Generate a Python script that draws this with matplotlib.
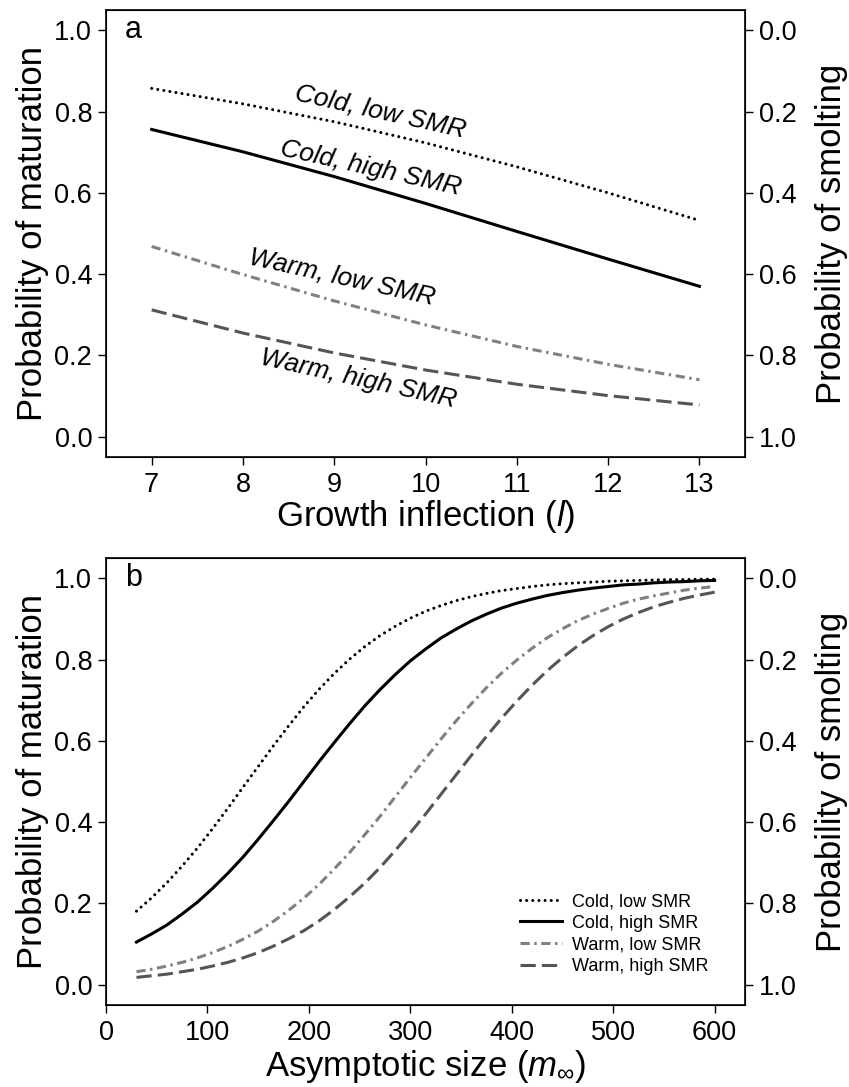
import numpy as np
import matplotlib.pyplot as plt

plt.rcParams['font.family'] = ['Liberation Sans', 'DejaVu Sans']
plt.rcParams['mathtext.fontset'] = 'custom'
plt.rcParams['mathtext.rm'] = 'Liberation Sans'
plt.rcParams['mathtext.it'] = 'Liberation Sans:italic'

# === Data ===
labels = ['Cold, low SMR', 'Cold, high SMR', 'Warm, low SMR', 'Warm, high SMR']

# panel a: growth inflection
inflection = [7, 8, 9, 10, 11, 12, 13]
a_cold_low = [0.857, 0.819, 0.775, 0.723, 0.664, 0.600, 0.532]
a_cold_high = [0.756, 0.701, 0.640, 0.574, 0.505, 0.437, 0.370]
a_warm_low = [0.468, 0.399, 0.334, 0.275, 0.222, 0.178, 0.140]
a_warm_high = [0.312, 0.255, 0.206, 0.164, 0.129, 0.101, 0.078]

# panel b: asymptotic size (30 to 600 in steps of 15)
asym_size = list(range(30, 601, 15))
b_cold_low = [0.181, 0.214, 0.251, 0.292, 0.336, 0.384, 0.434, 0.486, 0.537, 0.588,
              0.637, 0.684, 0.727, 0.766, 0.801, 0.832, 0.859, 0.882, 0.902, 0.919,
              0.933, 0.945, 0.955, 0.963, 0.970, 0.975, 0.980, 0.984, 0.987, 0.989,
              0.991, 0.993, 0.994, 0.995, 0.996, 0.997, 0.997, 0.998, 0.998]
b_cold_high = [0.105, 0.125, 0.147, 0.174, 0.203, 0.237, 0.274, 0.314, 0.358, 0.404,
               0.451, 0.500, 0.549, 0.596, 0.642, 0.686, 0.726, 0.763, 0.797, 0.826,
               0.853, 0.875, 0.895, 0.912, 0.927, 0.939, 0.949, 0.958, 0.965, 0.971,
               0.976, 0.980, 0.984, 0.986, 0.989, 0.991, 0.992, 0.994, 0.995]
b_warm_low = [0.032, 0.038, 0.046, 0.055, 0.066, 0.079, 0.094, 0.112, 0.132, 0.156,
              0.183, 0.213, 0.247, 0.285, 0.325, 0.369, 0.414, 0.462, 0.510, 0.557,
              0.604, 0.649, 0.691, 0.731, 0.767, 0.799, 0.828, 0.854, 0.876, 0.896,
              0.912, 0.926, 0.939, 0.949, 0.957, 0.964, 0.971, 0.976, 0.980]
b_warm_high = [0.018, 0.022, 0.026, 0.032, 0.038, 0.046, 0.055, 0.066, 0.079, 0.095,
               0.113, 0.133, 0.157, 0.185, 0.216, 0.250, 0.288, 0.330, 0.374, 0.420,
               0.468, 0.516, 0.564, 0.611, 0.656, 0.698, 0.737, 0.773, 0.805, 0.834,
               0.859, 0.881, 0.900, 0.916, 0.930, 0.941, 0.951, 0.959, 0.966]

# line styles for the four scenarios
styles = [
    dict(color='black', linestyle=(0, (0.01, 2.0)), dash_capstyle='round'),
    dict(color='black', linestyle='-'),
    dict(color='#808080', linestyle=(0, (3, 1.5, 0.8, 1.5))),
    dict(color='#555555', linestyle=(0, (5, 2))),
]
lw = 2.2
tick_fs = 19.5
label_fs = 25

fig = plt.figure(figsize=(8.49, 10.87), dpi=100)
ax_a = fig.add_axes([0.1249, 0.5796, 0.7527, 0.4112])
ax_b = fig.add_axes([0.1249, 0.0754, 0.7527, 0.4112])


def setup_axes(ax, letter):
    ax.set_ylim(-0.05, 1.05)
    ax.set_yticks([0, 0.2, 0.4, 0.6, 0.8, 1.0])
    ax.set_yticklabels(['0.0', '0.2', '0.4', '0.6', '0.8', '1.0'])
    ax.tick_params(axis='y', labelsize=tick_fs, length=6, width=1, pad=4)
    ax.tick_params(axis='x', labelsize=tick_fs, length=6, width=1, pad=5)
    ax.set_ylabel('Probability of maturation', fontsize=label_fs, labelpad=4)
    for sp in ax.spines.values():
        sp.set_linewidth(1.2)
    ax.text(0.03, 0.955, letter, transform=ax.transAxes, fontsize=22,
            ha='left', va='center')
    # right axis: probability of smolting = 1 - maturation
    ax2 = ax.twinx()
    ax2.set_ylim(1.05, -0.05)
    ax2.set_yticks([0, 0.2, 0.4, 0.6, 0.8, 1.0])
    ax2.set_yticklabels(['0.0', '0.2', '0.4', '0.6', '0.8', '1.0'])
    ax2.tick_params(labelsize=tick_fs, length=6, width=1, pad=4)
    ax2.set_ylabel('Probability of smolting', fontsize=label_fs, labelpad=13)
    return ax2


# === Panel a ===
a_series = [a_cold_low, a_cold_high, a_warm_low, a_warm_high]
for vals, st in zip(a_series, styles):
    ax_a.plot(inflection, vals, lw=lw, **st)
ax_a.set_xlim(6.5, 13.5)
ax_a.set_xticks(inflection)
ax_a.set_xlabel(r'Growth inflection ($l$)', fontsize=label_fs, labelpad=0)
setup_axes(ax_a, 'a')

# curve labels written along the lines
label_pos = [(9.51, 0.80), (9.40, 0.66), (9.09, 0.392), (9.26, 0.143)]
for txt, (x, y) in zip(labels, label_pos):
    ax_a.text(x, y, txt, fontsize=19, style='italic', rotation=-12.5,
              ha='center', va='center', rotation_mode='anchor')

# === Panel b ===
b_series = [b_cold_low, b_cold_high, b_warm_low, b_warm_high]
for vals, st, lab in zip(b_series, styles, labels):
    ax_b.plot(asym_size, vals, lw=lw, label=lab, **st)
ax_b.set_xlim(0, 630)
ax_b.set_xticks([0, 100, 200, 300, 400, 500, 600])
ax_b.set_xlabel(r'Asymptotic size ($m_{\infty}$)', fontsize=label_fs, labelpad=1)
setup_axes(ax_b, 'b')

ax_b.legend(loc='upper left', bbox_to_anchor=(0.648, 0.25), frameon=False,
            fontsize=13, handlelength=2.3, handletextpad=0.55,
            labelspacing=0.25, borderpad=0, borderaxespad=0)

fig.savefig('out.png', dpi=100)
